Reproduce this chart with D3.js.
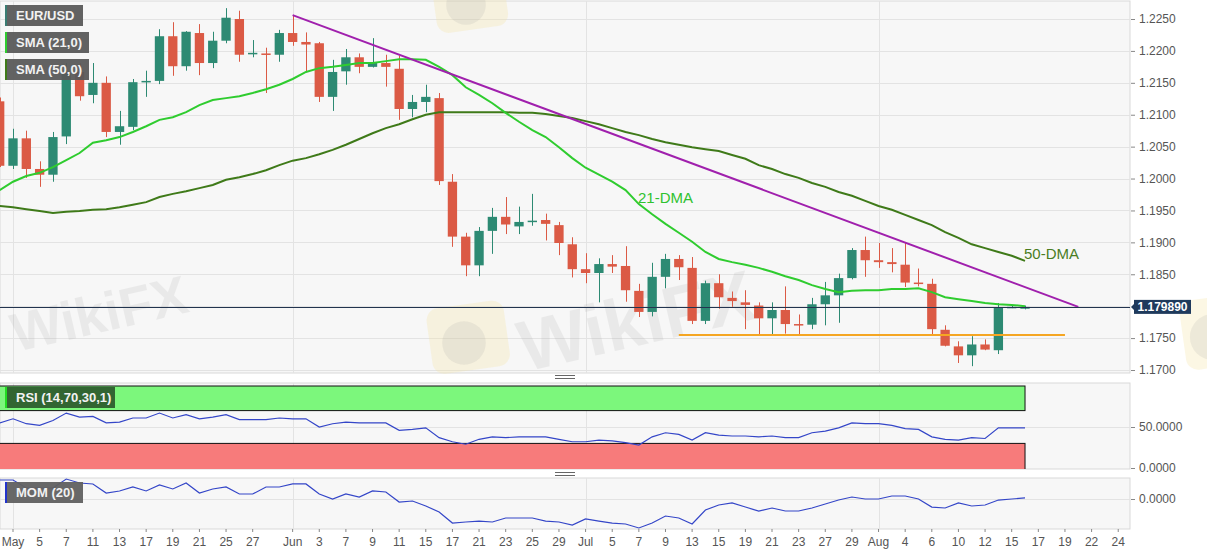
<!DOCTYPE html>
<html>
<head>
<meta charset="utf-8">
<script src="https://cdn.jsdelivr.net/npm/d3@7"></script>
<style>
  body { margin: 0; background: #fff; }
  svg { display: block; font-family: "Liberation Sans", Arial, sans-serif; }
</style>
</head>
<body>
<div id="chart"></div>
<script>
// candle slots (Apr 30 -> Aug 16) and empty future slots
var candleDates = ["04-30",
  "05-03","05-04","05-05","05-06","05-07","05-10","05-11","05-12","05-13","05-14","05-17","05-18","05-19","05-20","05-21","05-24","05-25","05-26","05-27","05-28","05-31",
  "06-01","06-02","06-03","06-04","06-07","06-08","06-09","06-10","06-11","06-14","06-15","06-16","06-17","06-18","06-21","06-22","06-23","06-24","06-25","06-28","06-29","06-30",
  "07-01","07-02","07-05","07-06","07-07","07-08","07-09","07-12","07-13","07-14","07-15","07-16","07-19","07-20","07-21","07-22","07-23","07-26","07-27","07-28","07-29","07-30",
  "08-02","08-03","08-04","08-05","08-06","08-09","08-10","08-11","08-12","08-13","08-15","08-16"];
var futureDates = ["08-17","08-18","08-19","08-20","08-22","08-23","08-24"];

var open = [1.2121,
  1.2020,1.2063,1.2015,1.2006,1.2066,1.2167,1.2131,1.2150,1.2073,1.2081,1.2151,1.2153,1.2223,1.2176,1.2228,1.2181,1.2216,1.2250,1.2195,1.2196,1.2194,
  1.2228,1.2214,1.2212,1.2128,1.2168,1.2190,1.2175,1.2181,1.2172,1.2109,1.2120,1.2126,1.1995,1.1909,1.1864,1.1918,1.1940,1.1925,1.1932,1.1935,1.1927,1.1897,
  1.1858,1.1852,1.1866,1.1863,1.1824,1.1791,1.1846,1.1874,1.1860,1.1777,1.1836,1.1813,1.1806,1.1801,1.1781,1.1794,1.1772,1.1771,1.1803,1.1817,1.1844,1.1888,
  1.1872,1.1869,1.1865,1.1837,1.1835,1.1763,1.1737,1.1723,1.1740,1.1731,1.1798,1.1796];
var high = [1.2127,
  1.2078,1.2075,1.2027,1.2073,1.2181,1.2181,1.2181,1.2160,1.2106,1.2156,1.2169,1.2234,1.2245,1.2231,1.2242,1.2230,1.2267,1.2263,1.2217,1.2205,1.2233,
  1.2256,1.2229,1.2214,1.2186,1.2203,1.2196,1.2220,1.2194,1.2192,1.2131,1.2147,1.2134,1.2007,1.1915,1.1924,1.1954,1.1971,1.1956,1.1976,1.1945,1.1932,1.1908,
  1.1883,1.1875,1.1880,1.1894,1.1835,1.1868,1.1882,1.1880,1.1877,1.1840,1.1850,1.1823,1.1825,1.1806,1.1806,1.1831,1.1787,1.1813,1.1838,1.1851,1.1891,1.1909,
  1.1899,1.1891,1.1899,1.1859,1.1843,1.1770,1.1745,1.1753,1.1748,1.1805,1.1801,1.1801];
var low = [1.2018,
  1.2015,1.2001,1.1987,1.1995,1.2054,1.2122,1.2118,1.2065,1.2053,1.2076,1.2128,1.2148,1.2161,1.2169,1.2162,1.2173,1.2212,1.2183,1.2190,1.2134,1.2183,
  1.2208,1.2167,1.2120,1.2106,1.2147,1.2165,1.2174,1.2144,1.2092,1.2096,1.2104,1.1990,1.1893,1.1847,1.1847,1.1882,1.1913,1.1913,1.1926,1.1903,1.1880,1.1845,
  1.1836,1.1806,1.1852,1.1807,1.1783,1.1784,1.1828,1.1841,1.1772,1.1772,1.1796,1.1799,1.1764,1.1756,1.1755,1.1757,1.1755,1.1764,1.1770,1.1774,1.1842,1.1846,
  1.1860,1.1853,1.1830,1.1831,1.1756,1.1737,1.1711,1.1706,1.1731,1.1725,1.1797,1.1795];
var close = [1.2020,
  1.2063,1.2015,1.2006,1.2065,1.2165,1.2129,1.2150,1.2073,1.2082,1.2151,1.2153,1.2223,1.2176,1.2230,1.2181,1.2216,1.2252,1.2194,1.2197,1.2194,1.2228,
  1.2214,1.2210,1.2128,1.2167,1.2190,1.2175,1.2181,1.2175,1.2109,1.2120,1.2128,1.1996,1.1909,1.1864,1.1918,1.1940,1.1928,1.1932,1.1934,1.1929,1.1899,1.1858,
  1.1852,1.1866,1.1862,1.1825,1.1791,1.1846,1.1874,1.1861,1.1777,1.1836,1.1814,1.1808,1.1802,1.1781,1.1794,1.1772,1.1771,1.1803,1.1817,1.1844,1.1888,1.1872,
  1.1869,1.1866,1.1837,1.1836,1.1764,1.1738,1.1723,1.1740,1.1732,1.1798,1.1799,1.17989];

var sma21 = [1.1982,
  1.1995,1.2004,1.2009,1.2018,1.2029,1.2040,1.2056,1.2060,1.2065,1.2073,1.2082,1.2092,1.2096,1.2104,1.2115,1.2123,1.2126,1.2129,1.2134,1.2140,1.2147,
  1.2156,1.2167,1.2173,1.2175,1.2178,1.2181,1.2181,1.2184,1.2187,1.2187,1.2186,1.2175,1.2162,1.2143,1.2131,1.2118,1.2103,1.2089,1.2076,1.2065,1.2049,1.2032,
  1.2017,1.2006,1.1995,1.1982,1.1960,1.1944,1.1929,1.1915,1.1901,1.1885,1.1874,1.1869,1.1865,1.1860,1.1854,1.1847,1.1841,1.1833,1.1827,1.1822,1.1824,1.1825,
  1.1825,1.1827,1.1827,1.1828,1.1822,1.1814,1.1811,1.1808,1.1805,1.1803,1.1802,1.1800];
var sma50 = [1.1957,
  1.1955,1.1952,1.1949,1.1946,1.1948,1.1949,1.1951,1.1952,1.1955,1.1959,1.1963,1.1971,1.1976,1.1980,1.1985,1.1990,1.1998,1.2002,1.2007,1.2013,1.2021,
  1.2028,1.2032,1.2038,1.2045,1.2053,1.2062,1.2071,1.2079,1.2085,1.2093,1.2100,1.2104,1.2104,1.2104,1.2104,1.2104,1.2104,1.2103,1.2103,1.2101,1.2098,1.2095,
  1.2090,1.2085,1.2079,1.2073,1.2068,1.2062,1.2057,1.2053,1.2049,1.2046,1.2043,1.2037,1.2031,1.2021,1.2015,1.2007,1.2001,1.1993,1.1987,1.1979,1.1973,1.1965,
  1.1957,1.1951,1.1943,1.1935,1.1927,1.1916,1.1907,1.1897,1.1891,1.1885,1.1879,1.1871];
var rsi = [55,
  60,54,52,58,67,62,63,55,56,61,61,67,61,65,60,62,65,59,59,59,61,
  60,60,50,54,56,55,55,55,46,47,49,37,32,29,35,38,37,38,38,38,35,32,
  32,34,33,31,28,38,43,41,34,43,40,39,39,38,39,37,37,43,45,49,55,54,
  54,52,48,47,38,35,34,37,36,49,49,49];
var mom = [0.0258,
  0.0258,0.0149,0.0149,0.0149,0.0271,0.0217,0.0204,0.0081,0.0109,0.0163,0.0109,0.0190,0.0136,0.0217,0.0081,0.0136,0.0163,0.0068,0.0068,0.0163,0.0163,
  0.0204,0.0204,0.0068,0.0000,0.0068,0.0027,0.0109,0.0095,-0.0041,-0.0027,-0.0095,-0.0176,-0.0326,-0.0312,-0.0299,-0.0312,-0.0258,-0.0258,-0.0258,-0.0299,-0.0312,-0.0353,
  -0.0271,-0.0299,-0.0326,-0.0339,-0.0393,-0.0326,-0.0231,-0.0258,-0.0339,-0.0149,-0.0081,-0.0054,-0.0109,-0.0163,-0.0122,-0.0163,-0.0163,-0.0122,-0.0068,-0.0014,0.0027,0.0000,
  0.0000,0.0041,0.0041,0.0000,-0.0109,-0.0122,-0.0054,-0.0095,-0.0081,-0.0014,0.0000,0.0014];

var priceTicks = [1.1700,1.1750,1.1800,1.1850,1.1900,1.1950,1.2000,1.2050,1.2100,1.2150,1.2200,1.2250];
var monthStarts = ["05-03","06-01","07-01","08-02"];
var xTicks = [["05-03","May"],["05-05","5"],["05-07","7"],["05-11","11"],["05-13","13"],["05-17","17"],["05-19","19"],["05-21","21"],["05-25","25"],["05-27","27"],
  ["06-01","Jun"],["06-03","3"],["06-07","7"],["06-09","9"],["06-11","11"],["06-15","15"],["06-17","17"],["06-21","21"],["06-23","23"],["06-25","25"],["06-29","29"],
  ["07-01","Jul"],["07-05","5"],["07-07","7"],["07-09","9"],["07-13","13"],["07-15","15"],["07-19","19"],["07-21","21"],["07-23","23"],["07-27","27"],["07-29","29"],
  ["08-02","Aug"],["08-04","4"],["08-06","6"],["08-10","10"],["08-12","12"],["08-15","15"],["08-17","17"],["08-19","19"],["08-22","22"],["08-24","24"]];

var lastPrice = 1.179890;
var trendFrom = ["06-01", 1.2256], trendTo = ["08-20", 1.17989];   // purple resistance
var supportLevel = 1.1755, supportFrom = "07-12", supportTo = "08-19"; // orange support

var greenC = "#2d8a73", redC = "#db5a45";

// layout
var W = 1207, H = 555, plotR = 1130;
var main = {top: 1, bottom: 373}, rsiP = {top: 383, bottom: 469}, momP = {top: 478, bottom: 529};

var svg = d3.select("#chart").append("svg").attr("width", W).attr("height", H);

var slots = candleDates.concat(futureDates);
var step = 13.316;
var x = d3.scaleBand()
  .domain(slots)
  .range([13 - 1.5 * step, 13 + (slots.length - 1.5) * step])
  .paddingInner(0.3).paddingOuter(0.15);
var cx = function(d) { return x(d) + x.bandwidth() / 2; };

var y = d3.scaleLinear().domain([1.1700, 1.2250]).range([370, 19]);
var yR = d3.scaleLinear().domain([0, 100]).range([468, 386]);
var yM = d3.scaleLinear().domain([-0.0407, 0.0285]).range([529, 478]);

// panel backgrounds
[main, rsiP, momP].forEach(function(p) {
  svg.append("rect").attr("x", 0).attr("y", p.top).attr("width", plotR).attr("height", p.bottom - p.top)
    .attr("fill", "#f7f7f7").attr("stroke", "#d9d9d9");
});

// clips
var defs = svg.append("defs");
[["cMain", main], ["cRsi", rsiP], ["cMom", momP]].forEach(function(c) {
  defs.append("clipPath").attr("id", c[0]).append("rect")
    .attr("x", 0).attr("y", c[1].top).attr("width", plotR).attr("height", c[1].bottom - c[1].top);
});

// gridlines
var grid = svg.append("g").attr("stroke", "#e3e3e3").attr("stroke-width", 1);
priceTicks.forEach(function(t) {
  grid.append("line").attr("x1", 0).attr("x2", plotR).attr("y1", Math.round(y(t)) + 0.5).attr("y2", Math.round(y(t)) + 0.5);
});
grid.append("line").attr("x1", 0).attr("x2", plotR).attr("y1", Math.round(yR(50)) + 0.5).attr("y2", Math.round(yR(50)) + 0.5);
grid.append("line").attr("x1", 0).attr("x2", plotR).attr("y1", Math.round(yM(0)) + 0.5).attr("y2", Math.round(yM(0)) + 0.5);
[main, rsiP, momP].forEach(function(p) {
  monthStarts.forEach(function(m) {
    grid.append("line").attr("x1", Math.round(cx(m)) + 0.5).attr("x2", Math.round(cx(m)) + 0.5)
      .attr("y1", p.top).attr("y2", p.bottom);
  });
});

// watermarks
var wm = svg.append("g").attr("pointer-events", "none");
[[425, 310, 78, 66], [1178, 302, 70, 70], [430, -25, 72, 60]].forEach(function(b) {
  wm.append("rect").attr("x", b[0]).attr("y", b[1]).attr("width", b[2]).attr("height", b[3]).attr("rx", 12)
    .attr("fill", "#f4e4a6").attr("opacity", 0.3).attr("transform", "rotate(-8," + b[0] + "," + b[1] + ")");
  wm.append("circle").attr("cx", b[0] + b[2] / 2).attr("cy", b[1] + b[3] / 2).attr("r", b[3] * 0.33)
    .attr("fill", "#999").attr("opacity", 0.15);
});
[[16, 352, 54], [525, 372, 72]].forEach(function(t) {
  wm.append("text").attr("x", t[0]).attr("y", t[1]).text("WikiFX")
    .attr("transform", "rotate(-13," + t[0] + "," + t[1] + ")")
    .attr("font-size", t[2]).attr("font-weight", "bold").attr("fill", "#9a9a9a").attr("opacity", 0.14);
});

// candles
var candles = candleDates.map(function(d, i) {
  return {date: d, o: open[i], h: high[i], l: low[i], c: close[i]};
});
var cg = svg.append("g").attr("clip-path", "url(#cMain)");
cg.selectAll(".wick").data(candles).enter().append("line")
  .attr("x1", function(d) { return Math.round(cx(d.date)) + 0.5; })
  .attr("x2", function(d) { return Math.round(cx(d.date)) + 0.5; })
  .attr("y1", function(d) { return y(d.h); })
  .attr("y2", function(d) { return y(d.l); })
  .attr("stroke", function(d) { return d.c >= d.o ? greenC : redC; });
cg.selectAll(".body").data(candles).enter().append("rect")
  .attr("x", function(d) { return x(d.date); })
  .attr("width", x.bandwidth())
  .attr("y", function(d) { return y(Math.max(d.o, d.c)); })
  .attr("height", function(d) { return Math.max(1.5, Math.abs(y(d.o) - y(d.c))); })
  .attr("fill", function(d) { return d.c >= d.o ? greenC : redC; });

// moving averages
var line = d3.line().x(function(d) { return cx(d[0]); }).y(function(d) { return y(d[1]); });
var lg = svg.append("g").attr("clip-path", "url(#cMain)").attr("fill", "none");
lg.append("path").datum(candleDates.map(function(d, i) { return [d, sma50[i]]; }))
  .attr("d", line).attr("stroke", "#3f7a19").attr("stroke-width", 2);
lg.append("path").datum(candleDates.map(function(d, i) { return [d, sma21[i]]; }))
  .attr("d", line).attr("stroke", "#2fcc2f").attr("stroke-width", 2);

// trend line and support
lg.append("path").datum([trendFrom, trendTo]).attr("d", line).attr("stroke", "#a020ad").attr("stroke-width", 2);
lg.append("path").datum([[supportFrom, supportLevel], [supportTo, supportLevel]]).attr("d", line)
  .attr("stroke", "#f5a623").attr("stroke-width", 2);

// current price line
svg.append("line").attr("x1", 0).attr("x2", plotR)
  .attr("y1", Math.round(y(lastPrice)) + 0.5).attr("y2", Math.round(y(lastPrice)) + 0.5)
  .attr("stroke", "#22344f").attr("stroke-width", 1);

// line labels
svg.append("text").attr("x", 638).attr("y", 203).text("21-DMA")
  .attr("font-size", 15).attr("fill", "#2fc22f");
svg.append("text").attr("x", 1024).attr("y", 259).text("50-DMA")
  .attr("font-size", 15).attr("fill", "#4a7d1f");

// RSI panel
var rg = svg.append("g").attr("clip-path", "url(#cRsi)");
var bandEnd = cx(candleDates[candleDates.length - 1]);
rg.append("rect").attr("x", -1).attr("y", yR(100)).attr("width", bandEnd + 1).attr("height", yR(70) - yR(100))
  .attr("fill", "#7cf77c").attr("stroke", "#111");
rg.append("rect").attr("x", -1).attr("y", yR(30)).attr("width", bandEnd + 1).attr("height", yR(0) - yR(30) + 2)
  .attr("fill", "#f77b7b").attr("stroke", "#111");
rg.append("path").datum(candleDates.map(function(d, i) { return [d, rsi[i]]; }))
  .attr("d", d3.line().x(function(d) { return cx(d[0]); }).y(function(d) { return yR(d[1]); }))
  .attr("fill", "none").attr("stroke", "#3446c8").attr("stroke-width", 1.2);

// MOM panel
svg.append("g").attr("clip-path", "url(#cMom)").append("path")
  .datum(candleDates.map(function(d, i) { return [d, mom[i]]; }))
  .attr("d", d3.line().x(function(d) { return cx(d[0]); }).y(function(d) { return yM(d[1]); }))
  .attr("fill", "none").attr("stroke", "#3446c8").attr("stroke-width", 1.2);

// panel separators
[377, 474].forEach(function(sy) {
  svg.append("line").attr("x1", 555).attr("x2", 575).attr("y1", sy - 1.5).attr("y2", sy - 1.5).attr("stroke", "#666");
  svg.append("line").attr("x1", 555).attr("x2", 575).attr("y1", sy + 1.5).attr("y2", sy + 1.5).attr("stroke", "#666");
});

// axes
var axisStyle = function(g) {
  g.select(".domain").remove();
  g.selectAll(".tick line").attr("stroke", "#888");
  g.selectAll("text").attr("fill", "#555").attr("font-size", 12);
};
// the 1.1800 label sits under the last price tag, so it is left out
var axisTicks = priceTicks.filter(function(t) { return Math.abs(t - lastPrice) > 0.002; });
svg.append("g").attr("transform", "translate(" + (plotR + 1) + ",0)")
  .call(d3.axisRight(y).tickValues(axisTicks).tickFormat(d3.format(".4f")).tickSize(4).tickPadding(4))
  .call(axisStyle);
svg.append("g").attr("transform", "translate(" + (plotR + 1) + ",0)")
  .call(d3.axisRight(yR).tickValues([0, 50]).tickFormat(d3.format(".4f")).tickSize(4).tickPadding(4))
  .call(axisStyle);
svg.append("g").attr("transform", "translate(" + (plotR + 1) + ",0)")
  .call(d3.axisRight(yM).tickValues([0]).tickFormat(d3.format(".4f")).tickSize(4).tickPadding(4))
  .call(axisStyle);
var tickLabel = new Map(xTicks);
svg.append("g").attr("transform", "translate(0," + momP.bottom + ")")
  .call(d3.axisBottom(x).tickValues(xTicks.map(function(t) { return t[0]; }))
    .tickFormat(function(d) { return tickLabel.get(d); }).tickSize(3).tickPadding(5))
  .call(axisStyle);

// last price tag
var ly = y(lastPrice);
svg.append("path").attr("d", "M" + (plotR + 1) + "," + ly + "L" + (plotR + 5) + "," + (ly - 4) + "L" + (plotR + 5) + "," + (ly + 4) + "Z")
  .attr("fill", "#1f3a5c");
svg.append("rect").attr("x", plotR + 4).attr("y", ly - 7).attr("width", 57).attr("height", 14).attr("fill", "#1f3a5c");
svg.append("text").attr("x", plotR + 32.5).attr("y", ly + 4.5).attr("text-anchor", "middle").text(d3.format(".6f")(lastPrice))
  .attr("fill", "#fff").attr("font-size", 12).attr("font-weight", "bold");

// legend boxes
var legends = [
  {label: "EUR/USD", y: 5, w: 78, strip: "#3a7c72", fill: "#5a5a5a"},
  {label: "SMA (21,0)", y: 32, w: 84, strip: "#2fcc2f", fill: "#5a5a5a"},
  {label: "SMA (50,0)", y: 59, w: 84, strip: "#3f7a19", fill: "#5a5a5a"},
  {label: "RSI (14,70,30,1)", y: 387, w: 110, strip: "#22dd22", fill: "#2e5d2e"},
  {label: "MOM (20)", y: 482, w: 78, strip: "#2233cc", fill: "#606060"}
];
legends.forEach(function(l) {
  svg.append("rect").attr("x", 5).attr("y", l.y).attr("width", l.w).attr("height", 21)
    .attr("fill", l.fill).attr("opacity", 0.95);
  svg.append("rect").attr("x", 5).attr("y", l.y).attr("width", 2).attr("height", 21).attr("fill", l.strip);
  svg.append("text").attr("x", 16).attr("y", l.y + 15).text(l.label)
    .attr("fill", "#f2f2f2").attr("font-size", 13).attr("font-weight", "bold");
});
</script>
</body>
</html>
